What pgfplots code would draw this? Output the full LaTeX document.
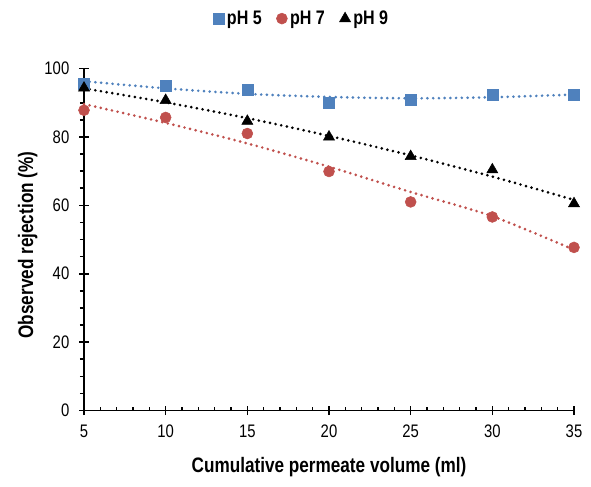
\documentclass[border=0pt]{standalone}
\usepackage{fontspec}
\setmainfont{Liberation Sans}[FakeStretch=0.82]
\usepackage{pgfplots}
\pgfplotsset{compat=1.18}
\usetikzlibrary{calc}
\definecolor{phfive}{HTML}{4F81BD}
\definecolor{phseven}{HTML}{C0504D}

% measured points
\pgfplotstableread{
x   p5    p7    p9
5   95.6  87.8  94.3
10  95.0  85.7  90.7
15  93.9  81.0  84.6
20  90.0  69.9  80.0
25  90.9  61.0  74.3
30  92.3  56.6  70.4
35  92.3  47.7  60.5
}\obs
% dotted trend lines
\pgfplotstableread{
x   p5    p7    p9
5   96.3  89.6  94.2
10  94.2  84.1  90.1
15  92.6  78.1  85.5
20  91.7  71.3  80.3
25  91.3  63.9  74.6
30  91.6  56.8  68.4
35  92.4  47.0  61.6
}\trend

\begin{document}
\begin{tikzpicture}
\begin{axis}[
  name=ax,
  scale only axis,
  width=367.5pt, height=256.5pt,
  xmin=5, xmax=35, ymin=0, ymax=100,
  xtick={5,10,...,35}, ytick={0,20,...,100},
  minor x tick num=4, minor y tick num=3,
  axis lines=left,
  axis line style={line width=1.4pt, -},
  tick align=center,
  major tick length=7pt,
  minor tick length=3pt,
  every tick/.style={black, line width=1.2pt},
  minor x tick style={yshift=1.5pt},
  minor y tick style={xshift=-1.5pt},
  /pgf/number format/assume math mode=true,
  tick label style={font=\fontsize{13.6}{16}\selectfont},
  xticklabel style={yshift=-4pt},
  yticklabel style={xshift=-4pt},
  xlabel={Cumulative permeate volume (ml)},
  ylabel={Observed rejection (\%)},
  label style={font=\fontsize{15.7}{18}\selectfont\bfseries},
  x label style={at={(axis description cs:0.5,-0.165)}, anchor=center},
  y label style={at={(axis description cs:-0.115,0.484)}, anchor=center},
  legend columns=-1,
  legend style={at={(axis description cs:0.445,1.146)}, anchor=center,
    draw=none, fill=none, font=\fontsize{14.7}{17}\selectfont\bfseries,
    /tikz/every even column/.append style={column sep=9pt},
    inner sep=0pt},
  legend image code/.code={\draw[#1] plot coordinates {(0.15cm,0cm)};},
  clip=false,
]
\addplot[phfive, line width=2.2pt, dash pattern=on 0pt off 4.3pt, line cap=round, smooth, forget plot]
  table[x=x, y=p5] {\trend};
\addplot[phseven, line width=2.2pt, dash pattern=on 0pt off 4.3pt, line cap=round, smooth, forget plot]
  table[x=x, y=p7] {\trend};
\addplot[black, line width=2.2pt, dash pattern=on 0pt off 4.3pt, line cap=round, smooth, forget plot]
  table[x=x, y=p9] {\trend};

\addplot[only marks, mark=square*, mark size=4.1pt, color=phfive, mark options={fill=phfive, draw=phfive}]
  table[x=x, y=p5] {\obs};
\addlegendentry{pH 5}
\addplot[only marks, mark=*, mark size=4.1pt, color=phseven, mark options={fill=phseven, draw=phseven}]
  table[x=x, y=p7] {\obs};
\addlegendentry{pH 7}
\addplot[only marks, mark=triangle*, mark size=4.8pt, color=black, mark options={fill=black}]
  table[x=x, y=p9] {\obs};
\addlegendentry{pH 9}
\end{axis}
\pgfresetboundingbox
\path ($(ax.south west)+(-63pt,-56.6pt)$) rectangle ($(ax.north east)+(12.75pt,51.4pt)$);
\end{tikzpicture}
\end{document}
